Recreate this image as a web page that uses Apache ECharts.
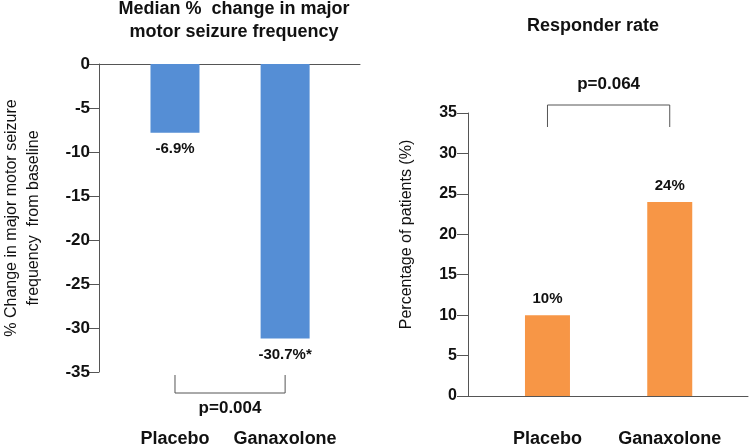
<!DOCTYPE html>
<html>
<head>
<meta charset="utf-8">
<script src="https://cdn.jsdelivr.net/npm/echarts@6/dist/echarts.min.js"></script>
<style>html,body{margin:0;padding:0;background:#fff}#c{width:749px;height:448px}</style>
</head>
<body>
<div id="c"></div>
<script>
const categories = ['Placebo', 'Ganaxolone'];
const categoryPos = [1, 2];
const seizureValues = [-7.8, -31.2];
const seizureLabels = ['-6.9%', '-30.7%*'];
const responderValues = [10, 24];
const responderLabels = ['10%', '24%'];
const leftTitle = 'Median %  change in major\nmotor seizure frequency';
const rightTitle = 'Responder rate';
const leftYName = '% Change in major motor seizure\nfrequency  from baseline';
const rightYName = 'Percentage of patients (%)';
const pLeft = 'p=0.004';
const pRight = 'p=0.064';

const FONT = "'Liberation Sans', Arial, sans-serif";
const LINE = '#555';
const TXT = '#111';

function catFmt(v) { const i = categoryPos.indexOf(Math.round(v)); return i >= 0 ? categories[i] : ''; }

function bracket(yRef, d1, d2, dt, text) {
  return function (params, api) {
    const a = api.coord([api.value(0), yRef]);
    const b = api.coord([api.value(1), yRef]);
    return {
      type: 'group',
      children: [
        { type: 'polyline', shape: { points: [[a[0], a[1] + d1], [a[0], a[1] + d2], [b[0], b[1] + d2], [b[0], b[1] + d1]] },
          style: { stroke: LINE, fill: null, lineWidth: 1 } },
        { type: 'text', x: (a[0] + b[0]) / 2, y: a[1] + dt,
          style: { text: text, align: 'center', verticalAlign: 'middle', font: 'bold 17px ' + FONT, fill: TXT } }
      ]
    };
  };
}

const chart = echarts.init(document.getElementById('c'), null, { renderer: 'canvas' });
chart.setOption({
  animation: false,
  backgroundColor: '#fff',
  textStyle: { fontFamily: FONT },
  title: [
    { text: leftTitle, left: 234, top: -2, padding: 0, textAlign: 'center',
      textStyle: { fontSize: 18, fontWeight: 'bold', color: TXT, lineHeight: 23, fontFamily: FONT } },
    { text: rightTitle, left: 593, top: 15, padding: 0, textAlign: 'center',
      textStyle: { fontSize: 18, fontWeight: 'bold', color: TXT, lineHeight: 23, fontFamily: FONT } }
  ],
  grid: [
    { left: 97, top: 64, right: 389, bottom: 75 },
    { left: 468, top: 113, right: 1, bottom: 51 }
  ],
  xAxis: [
    { gridIndex: 0, type: 'value', min: 0.31, max: 2.68, position: 'bottom',
      axisLine: { show: true, onZero: true, lineStyle: { color: LINE, width: 1 } },
      axisTick: { show: false }, axisLabel: { show: false }, splitLine: { show: false } },
    { gridIndex: 0, type: 'value', min: 0.31, max: 2.68, position: 'bottom', offset: 50,
      axisLine: { show: false, onZero: false }, axisTick: { show: false }, splitLine: { show: false },
      axisLabel: { customValues: categoryPos, formatter: catFmt, fontSize: 18, fontWeight: 'bold', color: TXT, margin: 8 } },
    { gridIndex: 1, type: 'value', min: 0.35, max: 2.64, position: 'bottom',
      axisLine: { show: true, onZero: true, lineStyle: { color: LINE, width: 1 } },
      axisTick: { show: false }, axisLabel: { show: false }, splitLine: { show: false } },
    { gridIndex: 1, type: 'value', min: 0.35, max: 2.64, position: 'bottom', offset: 26,
      axisLine: { show: false, onZero: false }, axisTick: { show: false }, splitLine: { show: false },
      axisLabel: { customValues: categoryPos, formatter: catFmt, fontSize: 18, fontWeight: 'bold', color: TXT, margin: 8 } }
  ],
  yAxis: [
    { gridIndex: 0, type: 'value', min: -35, max: 0, interval: 5,
      axisLine: { show: true, lineStyle: { color: LINE, width: 1 } },
      axisTick: { show: true, length: 11, lineStyle: { color: LINE, width: 1 } },
      axisLabel: { fontSize: 17, fontWeight: 'bold', color: TXT, margin: 9 },
      splitLine: { show: false },
      name: leftYName, nameLocation: 'middle', nameGap: 54, nameRotate: 90,
      nameTextStyle: { fontSize: 16, color: TXT, lineHeight: 22 } },
    { gridIndex: 1, type: 'value', min: 0, max: 35, interval: 5,
      axisLine: { show: true, lineStyle: { color: LINE, width: 1 } },
      axisTick: { show: true, length: 11, lineStyle: { color: LINE, width: 1 } },
      axisLabel: { fontSize: 16, fontWeight: 'bold', color: TXT, margin: 11 },
      splitLine: { show: false },
      name: rightYName, nameLocation: 'middle', nameGap: 51, nameRotate: 90,
      nameTextStyle: { fontSize: 16, color: TXT, lineHeight: 20, padding: [0, 0, 0, 40] } }
  ],
  series: [
    { type: 'bar', xAxisIndex: 0, yAxisIndex: 0, barWidth: 49,
      data: seizureValues.map((v, i) => [categoryPos[i], v]),
      itemStyle: { color: '#558ED5' },
      label: { show: true, position: 'bottom', distance: 9, fontSize: 15, fontWeight: 'bold', color: TXT,
        formatter: p => seizureLabels[p.dataIndex] } },
    { type: 'bar', xAxisIndex: 2, yAxisIndex: 1, barWidth: 45,
      data: responderValues.map((v, i) => [categoryPos[i], v]),
      itemStyle: { color: '#F79646' },
      label: { show: true, position: 'top', distance: 9, fontSize: 15, fontWeight: 'bold', color: TXT,
        formatter: p => responderLabels[p.dataIndex] } },
    { type: 'custom', xAxisIndex: 0, yAxisIndex: 0, clip: false, silent: true,
      data: [[categoryPos[0], categoryPos[1]]],
      renderItem: bracket(-35, 3, 21, 36, pLeft) },
    { type: 'custom', xAxisIndex: 2, yAxisIndex: 1, clip: false, silent: true,
      data: [[categoryPos[0], categoryPos[1]]],
      renderItem: bracket(35, 14, -8, -29, pRight) }
  ]
});
</script>
</body>
</html>
